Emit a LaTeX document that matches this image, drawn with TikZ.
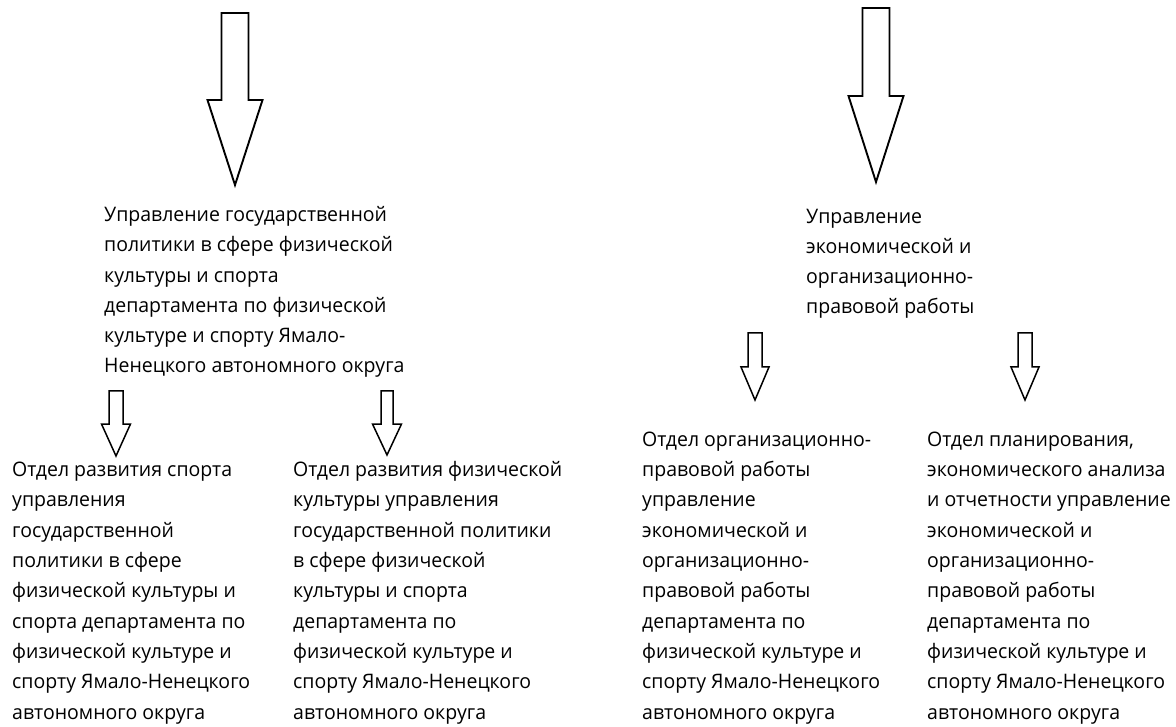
\documentclass[tikz,border=0pt]{standalone}
\usepackage{fontspec}
\setmainfont{Open Sans}[FakeStretch=0.975]
\tikzset{
  txt/.style={anchor=base west, align=left, inner sep=0pt, font=\fontsize{20}{30.3}\selectfont},
  barrow/.style={draw=black, line width=1.9pt, fill=white, line join=miter},
  sarrow/.style={draw=black, line width=1.5pt, fill=white, line join=miter}
}
% #1 style, #2 cx, #3 top, #4 shaft half, #5 head base, #6 head half, #7 tip
\newcommand\blockarrow[7]{%
  \draw[#1] ({#2-#4},#3) -- ({#2+#4},#3) -- ({#2+#4},#5) -- ({#2+#6},#5) -- (#2,#7)
    -- ({#2-#6},#5) -- ({#2-#4},#5) -- cycle;}
\begin{document}
\begin{tikzpicture}[x=1pt,y=-1pt]
\useasboundingbox (0,0) rectangle (1176,727);
\blockarrow{barrow}{235}{13}{13.5}{100}{27.5}{185}
\blockarrow{barrow}{876}{8}{13.5}{96}{27.5}{182}
\blockarrow{sarrow}{116}{391}{7}{424}{14.5}{456}
\blockarrow{sarrow}{387}{391}{6}{424}{14.5}{455}
\blockarrow{sarrow}{755}{333}{7}{367}{14}{400}
\blockarrow{sarrow}{1025}{333}{7}{367}{14}{400}

\node[txt] (ugp) at (104,373) {Управление государственной\\политики в сфере физической\\культуры и спорта\\департамента по физической\\культуре и спорту Ямало-\\Ненецкого автономного округа};
\node[txt] (ueo) at (806,314) {Управление\\экономической и\\организационно-\\правовой работы};
\node[txt] (ors) at (12,719) {Отдел развития спорта\\управления\\государственной\\политики в сфере\\физической культуры и\\спорта департамента по\\физической культуре и\\спорту Ямало-Ненецкого\\автономного округа};
\node[txt] (orf) at (293,719) {Отдел развития физической\\культуры управления\\государственной политики\\в сфере физической\\культуры и спорта\\департамента по\\физической культуре и\\спорту Ямало-Ненецкого\\автономного округа};
\node[txt] (oop) at (642,719) {Отдел организационно-\\правовой работы\\управление\\экономической и\\организационно-\\правовой работы\\департамента по\\физической культуре и\\спорту Ямало-Ненецкого\\автономного округа};
\node[txt] (opl) at (927,719) {Отдел планирования,\\экономического анализа\\и отчетности управление\\экономической и\\организационно-\\правовой работы\\департамента по\\физической культуре и\\спорту Ямало-Ненецкого\\автономного округа};
\end{tikzpicture}
\end{document}
